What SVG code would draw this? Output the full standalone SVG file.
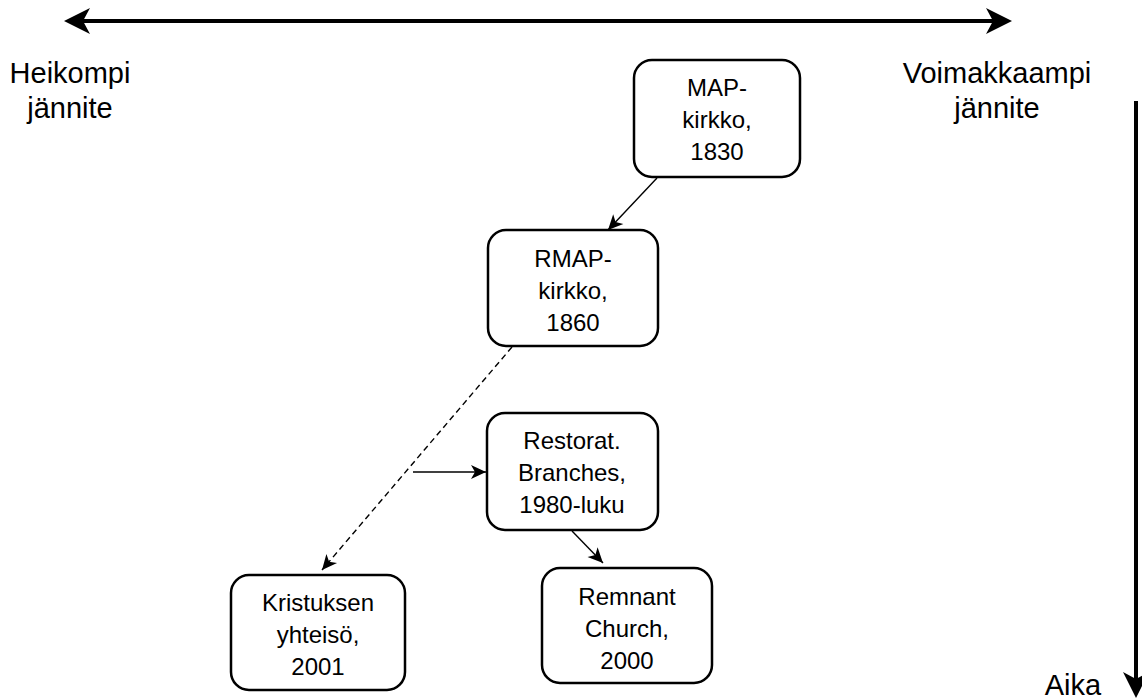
<svg xmlns="http://www.w3.org/2000/svg" width="1142" height="700" viewBox="0 0 1142 700">
<style>
  text { font-family: "Liberation Sans", Arial, sans-serif; fill: #000; }
  .lbl { font-size: 29px; text-anchor: middle; }
  .bt { font-size: 24px; text-anchor: middle; }
  .box { fill: #fff; stroke: #000; stroke-width: 2.5; }
  .thick { stroke: #000; stroke-width: 4; fill: none; }
  .thin { stroke: #000; stroke-width: 1.4; fill: none; }
  .dash { stroke-dasharray: 6 4; }
</style>
<defs>
  <marker id="bigHead" markerUnits="userSpaceOnUse" viewBox="-28 -15 30 30" markerWidth="30" markerHeight="30" refX="-12" refY="0" orient="auto-start-reverse">
    <path d="M0,0 L-26,-13 L-19,0 L-26,13 Z" fill="#000"/>
  </marker>
  <marker id="smallHead" markerUnits="userSpaceOnUse" viewBox="-17 -9 18 18" markerWidth="18" markerHeight="18" refX="0" refY="0" orient="auto">
    <path d="M0,0 L-15,-7 L-11,0 L-15,7 Z" fill="#000"/>
  </marker>
</defs>

<g id="axes">
  <path class="thick" d="M76,21 L1000,21" marker-start="url(#bigHead)" marker-end="url(#bigHead)"/>
  <path class="thick" d="M1136,101 L1136,686" marker-end="url(#bigHead)"/>
</g>

<g id="labels">
  <text class="lbl" x="70" y="83">Heikompi</text>
  <text class="lbl" x="70" y="118">jännite</text>
  <text class="lbl" x="997" y="83">Voimakkaampi</text>
  <text class="lbl" x="997" y="118">jännite</text>
  <text class="lbl" x="1073" y="695">Aika</text>
</g>

<g id="connectors">
  <path class="thin" d="M657,178 L608,230" marker-end="url(#smallHead)"/>
  <path class="thin dash" d="M512,347 L322,570" marker-end="url(#smallHead)"/>
  <path class="thin" d="M413,472 L486,472" marker-end="url(#smallHead)"/>
  <path class="thin" d="M572,531 L603,563" marker-end="url(#smallHead)"/>
</g>

<g id="map">
  <rect class="box" x="634" y="60" width="166" height="117" rx="18"/>
  <text class="bt" x="717" y="96">MAP-</text>
  <text class="bt" x="717" y="128">kirkko,</text>
  <text class="bt" x="717" y="160">1830</text>
</g>

<g id="rmap">
  <rect class="box" x="488" y="230" width="170" height="116" rx="18"/>
  <text class="bt" x="573" y="267">RMAP-</text>
  <text class="bt" x="573" y="299">kirkko,</text>
  <text class="bt" x="573" y="331">1860</text>
</g>

<g id="restorat">
  <rect class="box" x="487" y="413" width="171" height="117" rx="18"/>
  <text class="bt" x="572" y="449">Restorat.</text>
  <text class="bt" x="572" y="481">Branches,</text>
  <text class="bt" x="572" y="513">1980-luku</text>
</g>

<g id="remnant">
  <rect class="box" x="542" y="568" width="170" height="115" rx="18"/>
  <text class="bt" x="627" y="605">Remnant</text>
  <text class="bt" x="627" y="637">Church,</text>
  <text class="bt" x="627" y="669">2000</text>
</g>

<g id="kristuksen">
  <rect class="box" x="231" y="575" width="174" height="115" rx="18"/>
  <text class="bt" x="318" y="611">Kristuksen</text>
  <text class="bt" x="318" y="643">yhteisö,</text>
  <text class="bt" x="318" y="675">2001</text>
</g>
</svg>
